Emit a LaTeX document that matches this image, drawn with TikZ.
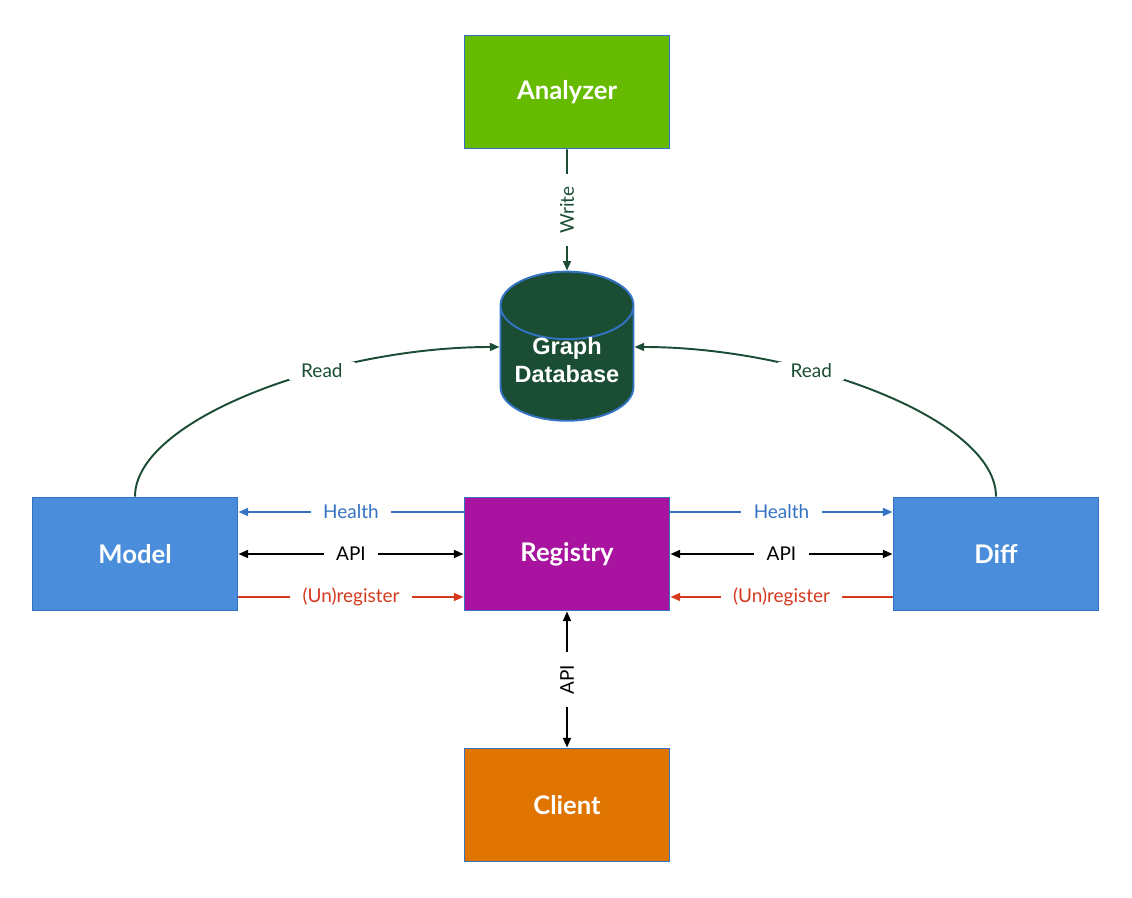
\documentclass[tikz,border=0pt]{standalone}
\usepackage{fontspec}
\setmainfont{Lato}
\newfontfamily\dbfont{Liberation Sans}
\usetikzlibrary{shapes.geometric, arrows.meta}

\definecolor{analyzergreen}{RGB}{102,187,0}
\definecolor{dbgreen}{RGB}{26,77,52}
\definecolor{serviceblue}{RGB}{74,142,219}
\definecolor{registrypurple}{RGB}{168,20,159}
\definecolor{clientorange}{RGB}{224,116,0}
\definecolor{boxborder}{RGB}{52,115,196}
\definecolor{healthblue}{RGB}{52,115,196}
\definecolor{registerred}{RGB}{213,58,31}

\begin{document}
\begin{tikzpicture}[x=0.02cm, y=0.02cm,
		>={Triangle[length=5.5pt, width=4.5pt]},
		box/.style={draw=boxborder, line width=1.1pt, minimum width=4.1cm, minimum height=2.26cm,
				text=white, font=\bfseries\fontsize{14.6}{17}\selectfont},
		dbshape/.style={cylinder, shape border rotate=90, aspect=0.58, draw=boxborder, fill=dbgreen,
				line width=1.1pt, minimum width=2.66cm, text height=20.75pt, text depth=7.15pt,
				text=white, align=center, font=\dbfont\bfseries\fontsize{13.4}{16}\selectfont},
		lbl/.style={fill=white, inner xsep=7pt, inner ysep=1pt, font=\fontsize{10.8}{13}\selectfont},
		readline/.style={color=dbgreen, line width=1.1pt},
		healthline/.style={color=healthblue, line width=1.1pt},
		apiline/.style={color=black, line width=1.1pt},
		regline/.style={color=registerred, line width=1.1pt}]

		\useasboundingbox (0,0) rectangle (1132,898);

		% Draw each component as a box
		\foreach \name/\x/\y/\col/\txt in {
				analyzer/567/806/analyzergreen/Analyzer,
				model/135/344/serviceblue/Model,
				registry/567/344/registrypurple/Registry,
				diff/996/344/serviceblue/Diff,
				client/567/93/clientorange/Client
			} {
				\node[box, fill=\col] (\name) at (\x,\y) {\txt};
			}

		% The graph database
		\node[dbshape] (db) at (567,527.5) {Graph\\Database};

		% Write and read the database
		\draw[readline, ->] (analyzer) -- node[lbl, rotate=90] {Write} (db);
		\draw[readline, ->] (model.north) to[out=90, in=180, out distance=1.54cm, in distance=3.38cm]
			node[lbl, pos=0.65] {Read} ([yshift=0.47cm]db.west);
		\draw[readline, ->] (diff.north) to[out=90, in=0, out distance=1.54cm, in distance=3.38cm]
			node[lbl, pos=0.65] {Read} ([yshift=0.47cm]db.east);

		% Model <-> registry
		\draw[healthline, ->] ([yshift=0.84cm]registry.west) -- node[lbl] {Health} ([yshift=0.84cm]model.east);
		\draw[apiline, <->] (model) -- node[lbl] {API} (registry);
		\draw[regline, ->] ([yshift=-0.86cm]model.east) -- node[lbl] {(Un)register} ([yshift=-0.86cm]registry.west);

		% Diff <-> registry
		\draw[healthline, ->] ([yshift=0.84cm]registry.east) -- node[lbl] {Health} ([yshift=0.84cm]diff.west);
		\draw[apiline, <->] (registry) -- node[lbl] {API} (diff);
		\draw[regline, ->] ([yshift=-0.86cm]diff.west) -- node[lbl] {(Un)register} ([yshift=-0.86cm]registry.east);

		% Client
		\draw[apiline, <->] (registry) -- node[lbl, rotate=90] {API} (client);

	\end{tikzpicture}
\end{document}
